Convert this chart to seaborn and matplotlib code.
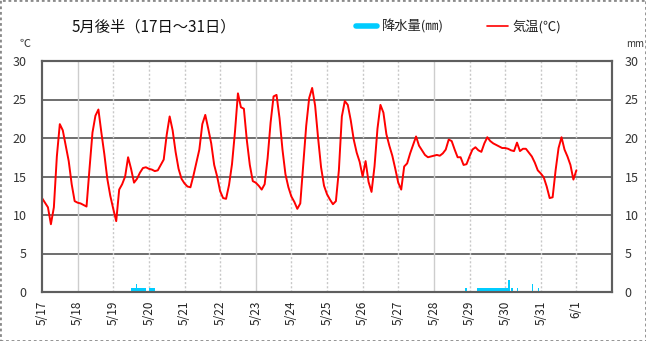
import numpy as np
import pandas as pd
import matplotlib
matplotlib.use("Agg")
import matplotlib.pyplot as plt
import seaborn as sns
from matplotlib.lines import Line2D
from matplotlib.patches import Rectangle

sns.set_style("white")
plt.rcParams["font.family"] = ["Noto Sans CJK JP", "DejaVu Sans"]

# ---- data -------------------------------------------------------------
date_labels = ["5/17", "5/18", "5/19", "5/20", "5/21", "5/22", "5/23", "5/24",
               "5/25", "5/26", "5/27", "5/28", "5/29", "5/30", "5/31", "6/1"]

# air temperature (°C), every 2 hours from 00:00 of each day
temp_0517 = [12.2, 11.6, 11.0, 8.8, 11.0, 17.6, 21.8, 21.0, 19.0, 17.0, 14.0, 11.8]
temp_0518 = [11.6, 11.5, 11.3, 11.1, 16.0, 20.7, 22.9, 23.7, 20.7, 17.9, 14.7, 12.5]
temp_0519 = [10.8, 9.2, 13.3, 14.0, 15.0, 17.5, 16.0, 14.2, 14.7, 15.5, 16.1, 16.2]
temp_0520 = [16.0, 15.9, 15.7, 15.8, 16.5, 17.2, 20.4, 22.8, 21.0, 18.2, 16.0, 14.7]
temp_0521 = [14.1, 13.7, 13.6, 15.1, 16.8, 18.5, 21.8, 23.0, 21.2, 19.3, 16.5, 15.0]
temp_0522 = [13.1, 12.2, 12.1, 13.9, 16.6, 20.8, 25.8, 24.0, 23.8, 19.7, 16.5, 14.4]
temp_0523 = [14.2, 13.8, 13.3, 14.0, 17.4, 22.0, 25.4, 25.6, 22.6, 18.5, 15.3, 13.6]
temp_0524 = [12.4, 11.7, 10.8, 11.5, 16.5, 21.6, 25.2, 26.5, 24.2, 20.0, 16.2, 13.8]
temp_0525 = [12.7, 12.0, 11.4, 11.8, 15.8, 22.8, 24.8, 24.3, 22.3, 19.8, 18.1, 16.9]
temp_0526 = [15.0, 17.0, 14.3, 13.0, 16.3, 21.2, 24.3, 23.3, 20.5, 19.0, 17.7, 16.0]
temp_0527 = [14.2, 13.3, 16.3, 16.7, 18.0, 19.1, 20.2, 19.0, 18.4, 17.8, 17.5, 17.6]
temp_0528 = [17.7, 17.8, 17.7, 18.0, 18.5, 19.8, 19.6, 18.5, 17.5, 17.5, 16.5, 16.6]
temp_0529 = [17.6, 18.5, 18.8, 18.4, 18.2, 19.3, 20.1, 19.6, 19.3, 19.1, 18.9, 18.7]
temp_0530 = [18.7, 18.6, 18.4, 18.3, 19.4, 18.3, 18.6, 18.6, 18.1, 17.6, 16.8, 15.8]
temp_0531 = [15.4, 14.9, 13.7, 12.2, 12.3, 15.8, 18.7, 20.1, 18.5, 17.6, 16.5, 14.6]
temp_0601 = [15.8]

# hourly precipitation (mm): hour counted from 5/17 00:00
rain_hour = [60, 61, 62, 63, 64, 65, 66, 67, 68, 69, 72, 73, 74, 75,
             285, 293, 294, 295, 296, 297, 298, 299, 300, 301, 302, 303,
             304, 305, 306, 307, 308, 309, 310, 311, 312, 313, 314,
             316, 320, 330, 334]
rain_mm = [0.5, 0.5, 0.5, 1.0, 0.5, 0.5, 0.5, 0.5, 0.5, 0.5, 0.5, 0.5, 0.5, 0.5,
           0.5, 0.5, 0.5, 0.5, 0.5, 0.5, 0.5, 0.5, 0.5, 0.5, 0.5, 0.5,
           0.5, 0.5, 0.5, 0.5, 0.5, 0.5, 0.5, 0.5, 0.5, 0.5, 1.5,
           0.5, 0.5, 1.0, 0.5]

temps = (temp_0517 + temp_0518 + temp_0519 + temp_0520 + temp_0521 + temp_0522 +
         temp_0523 + temp_0524 + temp_0525 + temp_0526 + temp_0527 + temp_0528 +
         temp_0529 + temp_0530 + temp_0531 + temp_0601)
temp_df = pd.DataFrame({"hour": np.arange(len(temps)) * 2, "temp": temps})
rain_df = pd.DataFrame({"hour": rain_hour, "mm": rain_mm})

# ---- figure -----------------------------------------------------------
W, H = 646, 341
fig = plt.figure(figsize=(W / 100, H / 100), dpi=100)
ax = fig.add_axes([42 / W, 49 / H, 570 / W, 231 / H])
ax2 = ax.twinx()

x_max = 16 * 24
ax.set_xlim(0, x_max)
ax.set_ylim(0, 30)
ax2.set_ylim(0, 30)

# grid
for v in range(5, 30, 5):
    ax.axhline(v, color="#6e6e6e", lw=1.4, zorder=1)
for d in range(1, 16):
    if d in (1, 6, 11):
        ax.axvline(d * 24, color="#cdcdcd", lw=1.0, zorder=1)
    else:
        ax.axvline(d * 24, color="#c8c8c8", lw=1.0, ls=(0, (1.5, 1.5)), zorder=1)

# precipitation bars (right axis)
sns.histplot(data=rain_df, x="hour", weights="mm", binwidth=1,
             binrange=(0, x_max), ax=ax2, color="#00ccff", alpha=1.0,
             linewidth=0, element="bars")
ax2.set_ylim(0, 30)
ax2.set_xlim(0, x_max)

# temperature line (left axis)
sns.lineplot(data=temp_df, x="hour", y="temp", ax=ax, color="#ff0000",
             lw=1.4, zorder=3)

# ticks & labels
ticks = [i * 24 for i in range(len(date_labels))]
ax.set_xticks(ticks)
ax.set_xticklabels(date_labels, rotation=90, fontsize=8.5, color="#222222")
ax.set_yticks(range(0, 31, 5))
ax.set_yticklabels([str(v) for v in range(0, 31, 5)], fontsize=9, color="#333333")
ax2.set_yticks(range(0, 31, 5))
ax2.set_yticklabels([str(v) for v in range(0, 31, 5)], fontsize=9, color="#333333")
ax.tick_params(axis="x", length=0, pad=6)
ax.tick_params(axis="y", length=0, pad=11)
ax2.tick_params(axis="y", length=0, pad=9)
for a in (ax, ax2):
    a.set_xlabel("")
    a.set_ylabel("")
    for s in a.spines.values():
        s.set_color("#5e5e5e")
        s.set_linewidth(1.5)

# title, units, legend
fig.text(72 / W, 1 - 27 / H, "5月後半（17日～31日）", fontsize=11, color="#111111",
         va="center", ha="left")
fig.text(19 / W, 1 - 44 / H, "℃", fontsize=8, color="#333333", va="center", ha="left")
fig.text(626 / W, 1 - 44 / H, "mm", fontsize=7, color="#333333", va="center", ha="left")

handles = [Line2D([0], [0], color="#00ccff", lw=4),
           Line2D([0], [0], color="#ff0000", lw=1.2)]
fig.legend(handles, ["降水量(㎜)", "気温(℃)"], ncol=2, frameon=False,
           loc="center left", bbox_to_anchor=(344 / W, 1 - 27 / H),
           fontsize=9.5, handlelength=1.6, handletextpad=0.35, columnspacing=3.3,
           labelcolor="#222222")

# dotted outer frame
fig.add_artist(Rectangle((0, 0), 1, 1, transform=fig.transFigure, fill=False,
                         ec="#8a8a8a", lw=2, ls=(0, (1, 1))))

fig.savefig("out.png", dpi=100)
